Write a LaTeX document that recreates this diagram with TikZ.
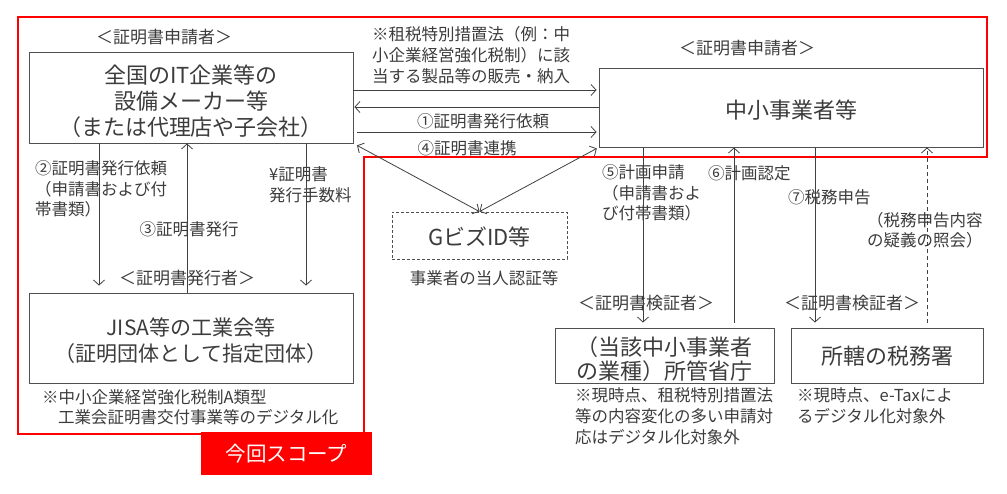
\documentclass[tikz,border=0pt]{standalone}
\usepackage{fontspec}
\setmainfont{Noto Sans CJK JP}
\usetikzlibrary{arrows.meta}
\definecolor{tx}{HTML}{3C3C3C}
\definecolor{ln}{HTML}{404040}
\definecolor{bx}{HTML}{505050}
\definecolor{scopered}{HTML}{FF0000}
\begin{document}
\begin{tikzpicture}[x=1pt,y=-1pt,
  every node/.style={text=tx, inner sep=0pt},
  box/.style={draw=bx, line width=0.9pt},
  tipv/.tip={Straight Barb[length=5pt,width=11pt,line width=0.8pt]},
  arr/.style={draw=ln, line width=0.8pt, -tipv},
  darr/.style={draw=ln, line width=0.8pt, tipv-tipv},
  role/.style={font=\fontsize{17}{21}\selectfont},
  small/.style={font=\fontsize{16.5}{21}\selectfont, align=left},
  big/.style={font=\fontsize{22}{26}\selectfont, align=center},
]
\useasboundingbox (0,0) rectangle (1007,493);
\fill[white] (0,0) rectangle (1007,493);

% scope outline
\draw[scopered, line width=2.4pt, line join=miter]
  (18,17) -- (987,17) -- (987,157) -- (364,157) -- (364,434) -- (18,434) -- cycle;

% boxes
\node[box, minimum width=324pt, minimum height=91pt] (A) at (191,97.5) {};
\node[big] (At) at (191,101) {全国のIT企業等の\\設備メーカー等\\（または代理店や子会社）};
\node[box, minimum width=384pt, minimum height=79pt] (B) at (791,107.5) {};
\node[big] (Bt) at (791,110) {中小事業者等};
\node[box, minimum width=324pt, minimum height=90pt] (J) at (191,338) {};
\node[font=\fontsize{21}{26}\selectfont, align=center] (Jt) at (191,341) {JISA等の工業会等\\（証明団体として指定団体）};
\node[box, minimum width=219pt, minimum height=55pt] (C) at (664.5,355.5) {};
\node[font=\fontsize{22}{24}\selectfont, align=center] (Ct) at (664.5,359) {（当該中小事業者\\の業種）所管省庁};
\node[box, minimum width=192pt, minimum height=55pt] (D) at (887,355.5) {};
\node[big] (Dt) at (887,356) {所轄の税務署};
\node[box, dashed, dash pattern=on 3pt off 2pt, minimum width=175pt, minimum height=47pt] (G) at (479.5,235.5) {};
\node[big] (Gt) at (479.5,237) {GビズID等};

% role labels
\node[role] (rA) at (164,37) {＜証明書申請者＞};
\node[role] (rB) at (747,48) {＜証明書申請者＞};
\node[role] (rJ) at (187,278) {＜証明書発行者＞};
\node[role] (rC) at (646,303) {＜証明書検証者＞};
\node[role] (rD) at (852,303) {＜証明書検証者＞};

% helper coordinates
\coordinate (y1) at (0,90);
\coordinate (y2) at (0,107);
\coordinate (y3) at (0,132);
\coordinate (x2) at (99,0);
\coordinate (x3) at (187,0);
\coordinate (xy) at (306,0);
\coordinate (x5) at (643,0);
\coordinate (x6) at (734,0);
\coordinate (x7) at (815,0);
\coordinate (x8) at (927,0);

% horizontal arrows A <-> B
\draw[arr, shorten >=2pt] (A.east |- y1) -- (B.west |- y1);
\draw[arr, shorten >=1pt] (B.west |- y2) -- (A.east |- y2);
\draw[arr, shorten <=4pt, shorten >=2pt] (A.east |- y3) -- (B.west |- y3);

% diagonal arrows through G
\draw[darr, shorten <=4pt] (A.south east) -- (G.north);
\draw[darr, shorten >=2pt] (G.north) -- (B.south west);

% verticals left
\draw[arr, shorten >=7pt] (A.south -| x2) -- (J.north -| x2);
\draw[arr] (J.north -| x3) -- (A.south -| x3);
\draw[arr, shorten >=7pt] (A.south -| xy) -- (J.north -| xy);

% verticals right
\draw[arr, shorten >=5pt] (B.south -| x5) -- (C.north -| x5);
\draw[arr, shorten <=5pt] (C.north -| x6) -- (B.south -| x6);
\draw[arr, shorten >=5pt] (B.south -| x7) -- (D.north -| x7);
\draw[arr, dashed, dash pattern=on 4pt off 3pt, shorten <=5pt] (D.north -| x8) -- (B.south -| x8);

% labels
\node[small, anchor=west] (lt) at (372,55.5) {※租税特別措置法（例：中\\小企業経営強化税制）に該\\当する製品等の販売・納入};
\node[small] (l1) at (483,121) {①証明書発行依頼};
\node[small] (l4) at (467,148) {④証明書連携};
\node[small, anchor=west, font=\fontsize{16.5}{20.5}\selectfont] (l2) at (35,189) {②証明書発行依頼\\（申請書および付\\帯書類）};
\node[small, anchor=west, font=\fontsize{16.5}{20.5}\selectfont] (lyen) at (269,185) {¥証明書\\発行手数料};
\node[small] (l3) at (189,229) {③証明書発行};
\node[small, anchor=west, font=\fontsize{16.5}{20.5}\selectfont] (l5) at (602,193) {⑤計画申請\\（申請書およ\\び付帯書類）};
\node[small, anchor=west] (l6) at (708,173) {⑥計画認定};
\node[small, anchor=west] (l7) at (788,197) {⑦税務申告};
\node[small, anchor=west, font=\fontsize{16.5}{20.5}\selectfont] (lq) at (867,230) {（税務申告内容\\の疑義の照会）};
\node[small] (lg) at (484,278) {事業者の当人認証等};

% notes
\node[small, anchor=west] (nj1) at (42,397) {※中小企業経営強化税制A類型};
\node[small, anchor=west] (nj2) at (58,417) {工業会証明書交付事業等のデジタル化};
\node[small, anchor=west, font=\fontsize{16.5}{21}\selectfont] (nc) at (575,416) {※現時点、租税特別措置法\\等の内容変化の多い申請対\\応はデジタル化対象外};
\node[small, anchor=west] (nd) at (797,405.5) {※現時点、e-Taxによ\\るデジタル化対象外};

% scope tag
\node[fill=scopered, minimum width=171pt, minimum height=43pt, text=white, font=\fontsize{20.5}{24}\selectfont] (S) at (286.5,453.5) {今回スコープ};
\end{tikzpicture}
\end{document}
